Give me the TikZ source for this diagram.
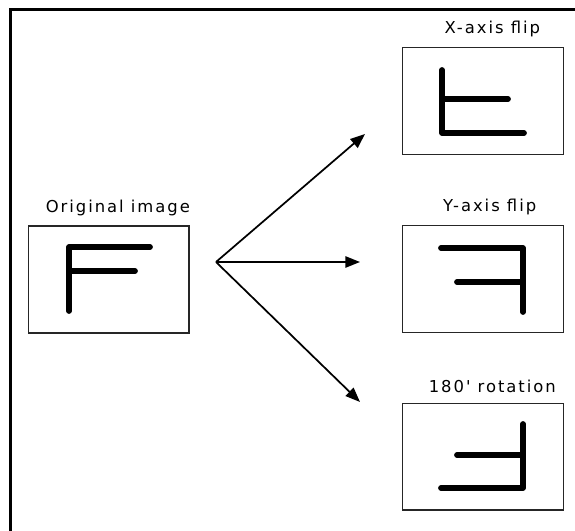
\documentclass[tikz,border=0pt]{standalone}
\usepackage{fontspec}
\newfontfamily\lblfont[LetterSpace=12]{DejaVu Sans}
\usetikzlibrary{arrows.meta,positioning}

\begin{document}
\begin{tikzpicture}[
    x=0.75pt, y=-0.75pt,
    imgbox/.style={draw=black!85, line width=1pt, minimum width=120.5pt, minimum height=80pt, inner sep=0pt},
    caption/.style={font=\lblfont\fontsize{12.3pt}{14pt}\selectfont, inner sep=2pt},
    glyph/.style={line width=4.3pt, line cap=round, line join=round},
    flow/.style={-{Triangle[length=11pt, width=8.5pt]}, line width=1.3pt}
]
\useasboundingbox (0,0) rectangle (575,531);

% outer frame (only left and top edges are inside the page)
\draw[line width=2.3pt] (10.5,531) -- (10.5,9.5) -- (575,9.5);

% image boxes
\node[imgbox] (orig) at (108.5,279.5) {};
\node[imgbox] (xflip) at (483,101) {};
\node[imgbox] (yflip) at (483,279) {};
\node[imgbox] (rot) at (483,456.5) {};

% captions
\node[caption, above=5pt of orig, xshift=7pt] (origlbl) {Original image};
\node[caption, above=5pt of xflip, xshift=7pt] (xfliplbl) {X-axis flip};
\node[caption, above=5pt of yflip, xshift=5pt] (yfliplbl) {Y-axis flip};
\node[caption, above=5pt of rot, xshift=7pt] (rotlbl) {180' rotation};

% letters
\draw[glyph] (69,311) -- (69,247) -- (150,247);
\draw[glyph] (69,271) -- (135,271);

\draw[glyph] (442,70) -- (442,133) -- (524,133);
\draw[glyph] (442,99) -- (508,99);

\draw[glyph] (441,248) -- (523,248) -- (523,312);
\draw[glyph] (457,282) -- (523,282);

\draw[glyph] (523,424) -- (523,488) -- (441,488);
\draw[glyph] (457,455) -- (523,455);

% arrows
\coordinate (fork) at (216,262);
\coordinate (toX) at (365,134);
\coordinate (toY) at (360,262);
\coordinate (toR) at (360,402);
\draw[flow] (fork) -- (toX);
\draw[flow] (fork) -- (toY);
\draw[flow] (fork) -- (toR);
\end{tikzpicture}
\end{document}
